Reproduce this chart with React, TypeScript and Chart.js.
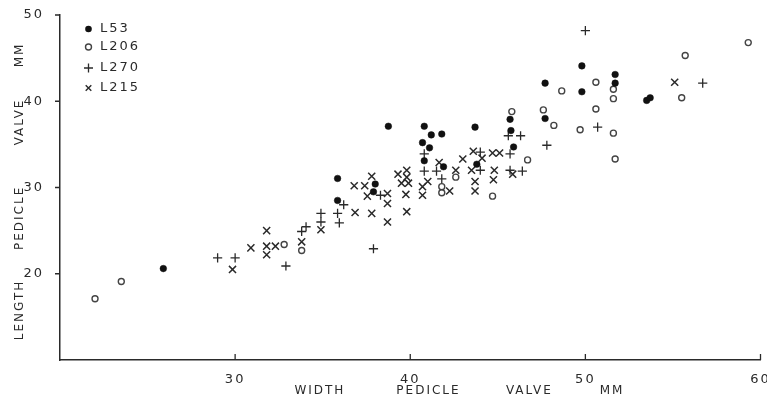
import React, { useEffect, useRef } from 'react';
import { Chart, registerables } from 'chart.js';

Chart.register(...registerables);

// ---- data (x = pedicle valve width mm, y = pedicle valve length mm) ----
const SERIES_NAMES = ['L53', 'L206', 'L270', 'L215'];

const L53: [number, number][] = [
  [25.9, 20.6], [35.85, 31.05], [35.85, 28.5], [37.9, 29.5], [38.0, 30.4],
  [38.75, 37.1], [40.8, 37.1], [41.2, 36.1], [41.8, 36.2], [40.7, 35.2],
  [41.1, 34.6], [40.8, 33.1], [41.9, 32.4], [43.7, 37.0], [43.8, 32.7],
  [45.7, 37.9], [45.75, 36.6], [45.9, 34.7], [47.7, 42.1], [47.7, 38.0],
  [49.8, 44.1], [49.8, 41.1], [51.7, 43.1], [51.7, 42.1], [53.5, 40.1],
  [53.7, 40.4],
];

const L206: [number, number][] = [
  [22.0, 17.1], [23.5, 19.1], [32.8, 23.4], [33.8, 22.7], [41.8, 30.1],
  [41.8, 29.4], [42.6, 31.2], [44.7, 29.0], [45.8, 38.8], [46.7, 33.2],
  [47.6, 39.0], [48.2, 37.2], [48.65, 41.2], [49.7, 36.7], [50.6, 42.2],
  [50.6, 39.1], [51.6, 41.4], [51.6, 40.3], [51.6, 36.3], [51.7, 33.3],
  [55.5, 40.4], [55.7, 45.3], [59.3, 46.8],
];

const L270: [number, number][] = [
  [29.0, 21.85], [30.0, 21.85], [32.9, 20.9], [33.8, 24.9], [34.05, 25.45],
  [34.9, 26.0], [34.9, 27.0], [35.85, 27.0], [35.95, 25.9], [36.2, 28.0],
  [37.9, 22.9], [38.3, 29.1], [40.8, 33.9], [40.8, 31.9], [41.5, 31.9],
  [41.8, 31.0], [44.0, 32.0], [44.0, 34.1], [45.6, 36.0], [46.3, 36.0],
  [45.7, 33.9], [45.7, 32.0], [46.4, 31.9], [47.8, 34.9], [50.0, 48.2],
  [50.7, 37.0], [56.7, 42.1],
];

const L215: [number, number][] = [
  [29.85, 20.5], [30.9, 23.0], [31.8, 25.0], [31.8, 23.2], [32.3, 23.2],
  [31.8, 22.2], [33.8, 23.7], [34.9, 25.1], [36.85, 27.1], [36.8, 30.2],
  [37.4, 30.2], [37.8, 31.3], [37.55, 29.0], [37.8, 27.0], [38.7, 29.3],
  [38.7, 28.15], [38.7, 26.0], [39.3, 31.55], [39.8, 32.0], [39.8, 31.2],
  [39.5, 30.5], [39.9, 30.5], [39.75, 29.2], [39.8, 27.2], [40.7, 30.1],
  [40.7, 29.1], [41.0, 30.7], [41.65, 32.9], [42.25, 29.6], [42.6, 32.0],
  [43.0, 33.3], [43.6, 34.2], [44.1, 33.4], [43.5, 32.0], [43.7, 30.7],
  [43.7, 29.6], [44.7, 34.0], [45.1, 34.0], [44.8, 32.0], [44.75, 30.9],
  [45.85, 31.55], [55.1, 42.2],
];

const X_TICKS = [30, 40, 50, 60];
const Y_TICKS = [20, 30, 40, 50];
const X_RANGE = [20, 60];
const Y_RANGE = [10, 50];
const X_TITLE_WORDS = ['WIDTH', 'PEDICLE', 'VALVE', 'MM'];
const Y_TITLE_WORDS = ['LENGTH', 'PEDICLE', 'VALVE', 'MM'];

// ---- layout / style (not data) ----
const FONT = '"DejaVu Sans", sans-serif';
const INK = '#2a2a2a';
const X_TITLE_POS = [0.371, 0.526, 0.670, 0.788]; // fraction of chart-area width
const Y_TITLE_POS = [0.855, 0.588, 0.310, 0.116]; // fraction of chart-area height
const LEGEND_Y = [29, 47, 68, 88];

const toPts = (arr: [number, number][]) => arr.map(([x, y]) => ({ x, y }));

function drawMarker(ctx: CanvasRenderingContext2D, kind: number, x: number, y: number) {
  ctx.save();
  ctx.strokeStyle = INK;
  ctx.fillStyle = '#111';
  if (kind === 0) {
    ctx.beginPath(); ctx.arc(x, y, 3.3, 0, Math.PI * 2); ctx.fill();
  } else if (kind === 1) {
    ctx.lineWidth = 1.4; ctx.strokeStyle = '#444';
    ctx.beginPath(); ctx.arc(x, y, 3, 0, Math.PI * 2); ctx.stroke();
  } else if (kind === 2) {
    ctx.lineWidth = 1.3;
    ctx.beginPath(); ctx.moveTo(x - 4.5, y); ctx.lineTo(x + 4.5, y);
    ctx.moveTo(x, y - 4.5); ctx.lineTo(x, y + 4.5); ctx.stroke();
  } else {
    ctx.lineWidth = 1.4; const r = 2.8;
    ctx.beginPath(); ctx.moveTo(x - r, y - r); ctx.lineTo(x + r, y + r);
    ctx.moveTo(x + r, y - r); ctx.lineTo(x - r, y + r); ctx.stroke();
  }
  ctx.restore();
}

const spacingPlugin = {
  id: 'spacing',
  beforeDraw(chart: any) {
    chart.ctx.letterSpacing = '2px';
  },
};

const decorPlugin = {
  id: 'decor',
  afterDraw(chart: any) {
    const ctx: CanvasRenderingContext2D = chart.ctx;
    const { left, right, top, bottom } = chart.chartArea;
    const xs = chart.scales.x;
    const ys = chart.scales.y;
    ctx.save();
    (ctx as any).letterSpacing = '2px';
    // tick marks
    ctx.strokeStyle = INK;
    ctx.lineWidth = 1.3;
    ctx.beginPath();
    X_TICKS.forEach((v) => {
      const px = xs.getPixelForValue(v);
      ctx.moveTo(px, bottom); ctx.lineTo(px, bottom - 6);
    });
    Y_TICKS.forEach((v) => {
      const py = ys.getPixelForValue(v);
      ctx.moveTo(left, py); ctx.lineTo(left - 5, py);
    });
    ctx.stroke();

    // axis titles
    ctx.fillStyle = INK;
    ctx.font = `12px ${FONT}`;
    ctx.textAlign = 'center';
    ctx.textBaseline = 'middle';
    X_TITLE_WORDS.forEach((w, i) => {
      ctx.fillText(w, left + X_TITLE_POS[i] * (right - left), 391);
    });
    Y_TITLE_WORDS.forEach((w, i) => {
      ctx.save();
      ctx.translate(20, top + Y_TITLE_POS[i] * (bottom - top));
      ctx.rotate(-Math.PI / 2);
      ctx.fillText(w, 0, 0);
      ctx.restore();
    });

    // legend
    ctx.font = `13px ${FONT}`;
    ctx.textAlign = 'left';
    SERIES_NAMES.forEach((name, i) => {
      drawMarker(ctx, i, left + 28.5, LEGEND_Y[i]);
      ctx.fillStyle = INK;
      ctx.fillText(name, left + 40, LEGEND_Y[i]);
    });
    ctx.restore();
  },
};

export default function App() {
  const ref = useRef<HTMLCanvasElement | null>(null);

  useEffect(() => {
    document.body.style.margin = '0';
    const canvas = ref.current;
    if (!canvas) return;
    const chart = new Chart(canvas, {
      type: 'scatter',
      data: {
        datasets: [
          {
            label: SERIES_NAMES[0], data: toPts(L53), pointStyle: 'circle', pointRadius: 3.3,
            backgroundColor: '#111', borderColor: '#111', borderWidth: 0.5,
          },
          {
            label: SERIES_NAMES[1], data: toPts(L206), pointStyle: 'circle', pointRadius: 3,
            backgroundColor: 'rgba(255,255,255,0)', borderColor: '#444', borderWidth: 1.4,
          },
          {
            label: SERIES_NAMES[2], data: toPts(L270), pointStyle: 'cross', pointRadius: 4.6,
            borderColor: INK, borderWidth: 1.3,
          },
          {
            label: SERIES_NAMES[3], data: toPts(L215), pointStyle: 'crossRot', pointRadius: 5,
            borderColor: INK, borderWidth: 1.5,
          },
        ] as any,
      },
      options: {
        animation: false,
        responsive: false,
        devicePixelRatio: 1,
        layout: { padding: { left: 0, right: 3, top: 15, bottom: 0 } },
        plugins: { legend: { display: false }, tooltip: { enabled: false } },
        elements: { point: { hoverRadius: 3 } },
        scales: {
          x: {
            type: 'linear',
            min: X_RANGE[0], max: X_RANGE[1],
            grid: { display: false },
            border: { display: true, color: INK, width: 1.5 },
            ticks: { color: INK, font: { family: FONT, size: 13 }, padding: 4, maxRotation: 0, autoSkip: false },
            afterBuildTicks: (s: any) => { s.ticks = X_TICKS.map((v) => ({ value: v })); },
            afterFit: (s: any) => { s.height = 41; s.paddingLeft = 0; s.paddingRight = 0; },
          },
          y: {
            type: 'linear',
            min: Y_RANGE[0], max: Y_RANGE[1],
            grid: { display: false },
            border: { display: true, color: INK, width: 1.5 },
            ticks: { color: INK, font: { family: FONT, size: 13 }, padding: 8, autoSkip: false },
            afterBuildTicks: (s: any) => { s.ticks = Y_TICKS.map((v) => ({ value: v })); },
            afterFit: (s: any) => { s.width = 60; s.paddingTop = 0; s.paddingBottom = 0; },
          },
        },
      } as any,
      plugins: [spacingPlugin, decorPlugin],
    });
    return () => chart.destroy();
  }, []);

  return (
    <div style={{ width: 767, height: 401, position: 'relative', background: '#fff' }}>
      <canvas ref={ref} width={767} height={401} style={{ display: 'block' }} />
    </div>
  );
}
